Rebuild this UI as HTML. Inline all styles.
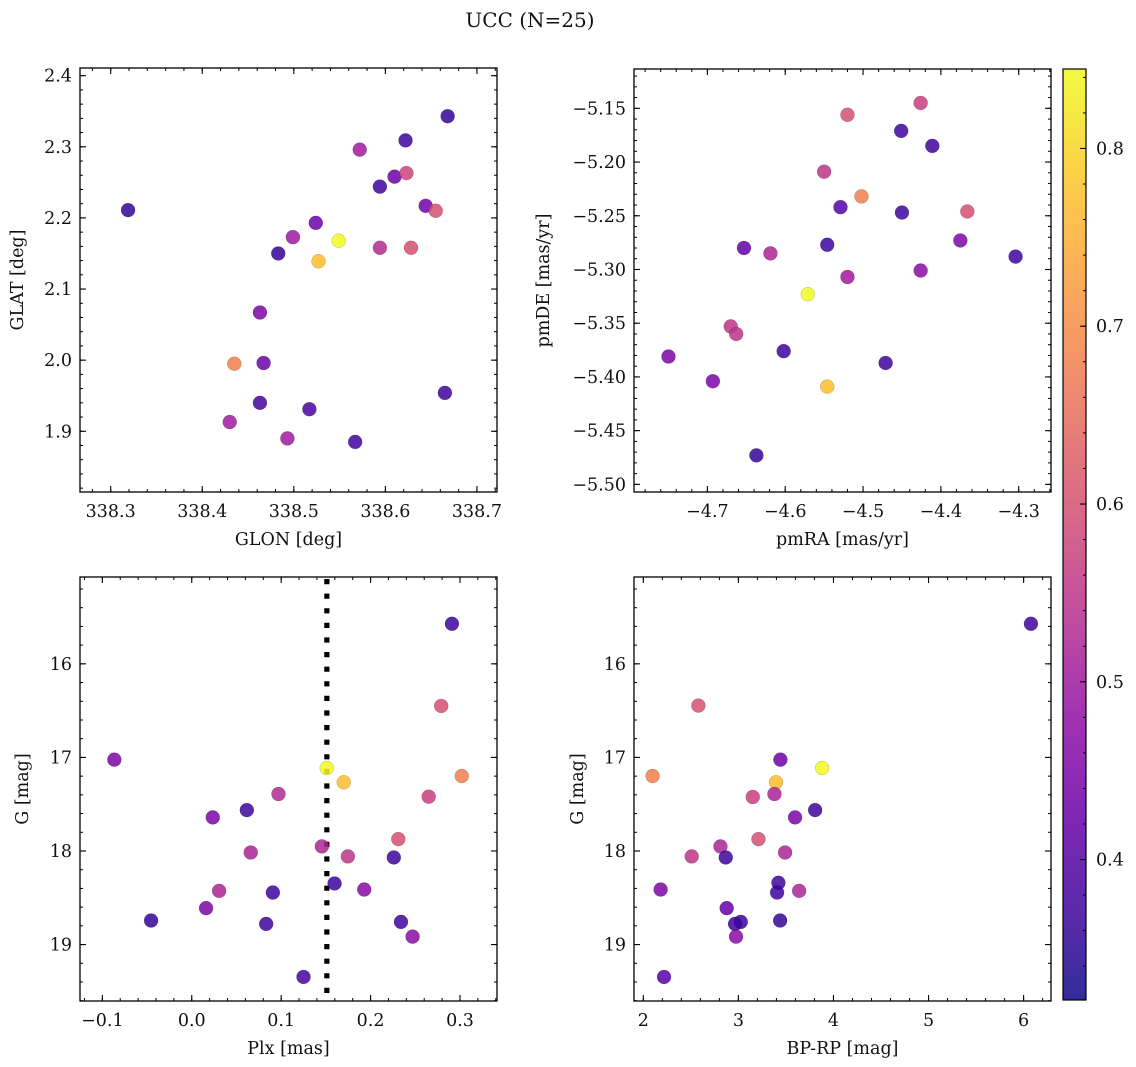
<!DOCTYPE html>
<html><head><meta charset="utf-8"><style>
html,body{margin:0;padding:0;background:#fff;}
svg{display:block;font-family:"DejaVu Serif","Liberation Serif",serif;}
</style></head><body>
<svg id="chart" width="1136" height="1067" viewBox="0 0 1136 1067" xmlns="http://www.w3.org/2000/svg">
<text x="530" y="27" font-size="20" text-anchor="middle" fill="#111">UCC (N=25)</text>
</svg>
<script>
// ---- data ----
const glon = [338.319,338.668,338.622,338.572,338.610,338.623,338.594,338.644,338.655,338.524,338.499,338.549,338.483,338.527,338.594,338.628,338.463,338.435,338.467,338.463,338.517,338.430,338.493,338.567,338.665];
const glat = [2.211,2.343,2.309,2.296,2.258,2.263,2.244,2.217,2.210,2.193,2.173,2.168,2.150,2.139,2.158,2.158,2.067,1.995,1.996,1.940,1.931,1.913,1.890,1.885,1.954];
const probTL = [0.36,0.36,0.37,0.50,0.43,0.58,0.37,0.43,0.60,0.43,0.50,0.85,0.36,0.77,0.53,0.60,0.45,0.68,0.43,0.38,0.38,0.50,0.50,0.37,0.37];

const pmra = [-4.750,-4.693,-4.670,-4.663,-4.653,-4.619,-4.637,-4.602,-4.571,-4.546,-4.546,-4.550,-4.529,-4.520,-4.520,-4.502,-4.471,-4.451,-4.450,-4.426,-4.426,-4.411,-4.375,-4.366,-4.304];
const pmde = [-5.381,-5.404,-5.353,-5.360,-5.280,-5.285,-5.473,-5.376,-5.323,-5.277,-5.409,-5.209,-5.242,-5.156,-5.307,-5.232,-5.387,-5.171,-5.247,-5.145,-5.301,-5.185,-5.273,-5.246,-5.288];
const probTR = [0.45,0.45,0.55,0.55,0.42,0.52,0.36,0.37,0.85,0.37,0.77,0.55,0.40,0.60,0.50,0.68,0.37,0.37,0.37,0.57,0.47,0.37,0.45,0.60,0.37];

const plx = [-0.0866,-0.0455,0.291,0.279,0.151,0.170,0.302,0.097,0.265,0.0616,0.0235,0.231,0.1455,0.066,0.1746,0.226,0.1597,0.1929,0.0306,0.0907,0.016,0.0832,0.234,0.247,0.125];
const gmagBL = [17.024,18.743,15.572,16.450,17.113,17.266,17.199,17.391,17.420,17.563,17.641,17.873,17.951,18.016,18.058,18.069,18.347,18.412,18.426,18.444,18.611,18.779,18.758,18.915,19.346];
const probBL = [0.45,0.36,0.37,0.60,0.85,0.77,0.68,0.53,0.57,0.37,0.45,0.60,0.52,0.52,0.55,0.37,0.37,0.47,0.52,0.37,0.45,0.37,0.37,0.47,0.38];
const plxCut = [0.1511];

const bprp = [6.077,2.579,2.098,3.442,3.881,3.396,3.379,3.151,3.807,3.596,3.211,2.811,2.509,2.867,3.491,3.421,3.407,3.639,2.182,2.877,3.025,2.965,3.439,2.975,2.218];
const gmagBR = [15.572,16.446,17.199,17.024,17.113,17.266,17.391,17.423,17.563,17.641,17.873,17.951,18.058,18.069,18.016,18.340,18.444,18.426,18.412,18.611,18.758,18.779,18.743,18.915,19.346];
const probBR = [0.37,0.60,0.68,0.43,0.85,0.77,0.52,0.57,0.37,0.45,0.60,0.52,0.55,0.37,0.52,0.37,0.37,0.52,0.45,0.42,0.37,0.37,0.36,0.47,0.40];

const ticksTLx = [338.3,338.4,338.5,338.6,338.7];
const ticksTLy = [1.9,2.0,2.1,2.2,2.3,2.4];
const ticksTRx = [-4.7,-4.6,-4.5,-4.4,-4.3];
const ticksTRy = [-5.50,-5.45,-5.40,-5.35,-5.30,-5.25,-5.20,-5.15];
const ticksBLx = [-0.1,0.0,0.1,0.2,0.3];
const ticksGy = [16,17,18,19];
const ticksBRx = [2,3,4,5,6];
const ticksCbar = [0.4,0.5,0.6,0.7,0.8];

// ---- helpers ----
const NS = "http://www.w3.org/2000/svg";
const svg = document.getElementById('chart');
const TFS = 17.5;
function mk(tag, attrs, parent){
  const e = document.createElementNS(NS, tag);
  for (const k in attrs) e.setAttribute(k, attrs[k]);
  (parent||svg).appendChild(e);
  return e;
}
const plasma = ["#0d0887","#41049d","#6a00a8","#8f0da4","#b12a90","#cc4778","#e16462","#f2844b","#fca636","#fcce25","#f0f921"];
const VMIN = 0.321, VMAX = 0.8447;
function hex2rgb(h){return [parseInt(h.slice(1,3),16),parseInt(h.slice(3,5),16),parseInt(h.slice(5,7),16)];}
function cmap(v){
  let t = (v-VMIN)/(VMAX-VMIN); t=Math.max(0,Math.min(1,t));
  const p = t*10, i = Math.min(9,Math.floor(p)), f = p-i;
  const a = hex2rgb(plasma[i]), b = hex2rgb(plasma[i+1]);
  const c = a.map((x,j)=>Math.round(x+(b[j]-x)*f));
  return `rgb(${c[0]},${c[1]},${c[2]})`;
}
function fmt(v, d){ const s = v.toFixed(d); return s.startsWith('-') ? '\u2212'+s.slice(1) : s; }

function panel(o){
  const g = mk('g', {});
  
  
  const sx = v => o.x0 + (v-o.xmin)/(o.xmax-o.xmin)*(o.x1-o.x0);
  const sy = o.invert ? (v => o.y0 + (v-o.ymin)/(o.ymax-o.ymin)*(o.y1-o.y0))
                      : (v => o.y1 - (v-o.ymin)/(o.ymax-o.ymin)*(o.y1-o.y0));
  const minors = (lo, hi, step) => { const r=[]; const s=Math.ceil(lo/step-1e-9); for(let k=s; k*step<=hi+1e-9; k++) r.push(k*step); return r; };
  minors(o.xmin,o.xmax,o.xminor).forEach(v=>{
    const x=sx(v);
    mk('line',{x1:x,x2:x,y1:o.y1,y2:o.y1-3,stroke:'#000','stroke-width':1},g);
    mk('line',{x1:x,x2:x,y1:o.y0,y2:o.y0+3,stroke:'#000','stroke-width':1},g);
  });
  minors(o.ymin,o.ymax,o.yminor).forEach(v=>{
    const y=sy(v);
    mk('line',{x1:o.x0,x2:o.x0+3,y1:y,y2:y,stroke:'#000','stroke-width':1},g);
    mk('line',{x1:o.x1,x2:o.x1-3,y1:y,y2:y,stroke:'#000','stroke-width':1},g);
  });
  o.xt.forEach(v=>{
    const x=sx(v);
    mk('line',{x1:x,x2:x,y1:o.y1,y2:o.y1-6,stroke:'#000','stroke-width':1.1},g);
    mk('line',{x1:x,x2:x,y1:o.y0,y2:o.y0+6,stroke:'#000','stroke-width':1.1},g);
    const t = mk('text',{x:x,y:o.y1+25,'font-size':TFS,'text-anchor':'middle',fill:'#111'},g);
    
    
    t.textContent = fmt(v,o.xd);
  });
  o.yt.forEach(v=>{
    const y=sy(v);
    mk('line',{x1:o.x0,x2:o.x0+6,y1:y,y2:y,stroke:'#000','stroke-width':1.1},g);
    mk('line',{x1:o.x1,x2:o.x1-6,y1:y,y2:y,stroke:'#000','stroke-width':1.1},g);
    const t = mk('text',{x:o.x0-8,y:y+6,'font-size':TFS,'text-anchor':'end',fill:'#111'},g);
    
    
    t.textContent = fmt(v,o.yd);
  });
  if (o.vline) {
    const x = sx(o.vline[0]);
    const l = mk('line',{x1:x,x2:x,y1:o.y0+2,y2:o.y1,stroke:'#000','stroke-width':5.2,'stroke-dasharray':'5.2 9.4'},g);
    
    
  }
  o.xs.forEach((xv,i)=>{
    const c = mk('circle',{cx:sx(xv),cy:sy(o.ys[i]),r:7,fill:cmap(o.cs[i]),'fill-opacity':0.85,stroke:'rgba(0,0,0,0.25)','stroke-width':0.5},g);
    
    
  });
  const fr = mk('rect',{x:o.x0,y:o.y0,width:o.x1-o.x0,height:o.y1-o.y0,fill:'none',stroke:'#000','stroke-width':1.3},g);
  
  
  const xl = mk('text',{x:(o.x0+o.x1)/2,y:o.y1+53,'font-size':TFS,'text-anchor':'middle',fill:'#111'},g);
  
  
  xl.textContent = o.xlabel;
  const yx = o.ylx, yy = (o.y0+o.y1)/2;
  const yl = mk('text',{x:yx,y:yy,'font-size':TFS,'text-anchor':'middle',fill:'#111',transform:`rotate(-90 ${yx} ${yy})`},g);
  
  
  yl.textContent = o.ylabel;
}

panel({name:'glon-glat-panel',x0:80,x1:497,y0:68,y1:492,xmin:338.2665,xmax:338.7219,ymin:1.8146,ymax:2.4108,
  xt:ticksTLx,yt:ticksTLy,xd:1,yd:1,xminor:0.02,yminor:0.02,xs:glon,ys:glat,cs:probTL,xlabel:'GLON [deg]',ylabel:'GLAT [deg]',ylx:23});
panel({name:'pm-panel',x0:634,x1:1051,y0:69,y1:492,xmin:-4.7943,xmax:-4.2585,ymin:-5.5071,ymax:-5.1134,
  xt:ticksTRx,yt:ticksTRy,xd:1,yd:2,xminor:0.02,yminor:0.01,xs:pmra,ys:pmde,cs:probTR,xlabel:'pmRA [mas/yr]',ylabel:'pmDE [mas/yr]',ylx:549});
panel({name:'plx-g-panel',x0:80,x1:497,y0:577,y1:1001,xmin:-0.125,xmax:0.3414,ymin:15.072,ymax:19.603,invert:true,
  xt:ticksBLx,yt:ticksGy,xd:1,yd:0,xminor:0.02,yminor:0.2,xs:plx,ys:gmagBL,cs:probBL,vline:plxCut,xlabel:'Plx [mas]',ylabel:'G [mag]',ylx:28});
panel({name:'cmd-panel',x0:634,x1:1051,y0:577,y1:1001,xmin:1.902,xmax:6.288,ymin:15.072,ymax:19.603,invert:true,
  xt:ticksBRx,yt:ticksGy,xd:0,yd:0,xminor:0.2,yminor:0.2,xs:bprp,ys:gmagBR,cs:probBR,xlabel:'BP-RP [mag]',ylabel:'G [mag]',ylx:583});

// ---- colorbar ----
(function(){
  const x0=1063,x1=1086,y0=69,y1=1000;
  const g = mk('g',{});
  
  
  const defs = mk('defs',{},g);
  const lg = mk('linearGradient',{id:'cbg',x1:0,y1:1,x2:0,y2:0},defs);
  for(let i=0;i<=20;i++){ const v=VMIN+(VMAX-VMIN)*i/20; mk('stop',{offset:(i/20),'stop-color':cmap(v),'stop-opacity':0.85},lg); }
  mk('rect',{x:x0,y:y0,width:x1-x0,height:y1-y0,fill:'url(#cbg)'},g);
  const sy = v => y1 - (v-VMIN)/(VMAX-VMIN)*(y1-y0);
  for(let k=Math.ceil(VMIN/0.02); k*0.02<=VMAX; k++){ const y=sy(k*0.02); mk('line',{x1:x1,x2:x1-3,y1:y,y2:y,stroke:'#000','stroke-width':1},g); }
  ticksCbar.forEach(v=>{
    const y=sy(v);
    mk('line',{x1:x1,x2:x1-6,y1:y,y2:y,stroke:'#000','stroke-width':1.1},g);
    const t = mk('text',{x:x1+10,y:y+6,'font-size':TFS,fill:'#111'},g);
    
    
    t.textContent = v.toFixed(1);
  });
  mk('rect',{x:x0,y:y0,width:x1-x0,height:y1-y0,fill:'none',stroke:'#000','stroke-width':1.2},g);
})();
</script>
</body></html>
